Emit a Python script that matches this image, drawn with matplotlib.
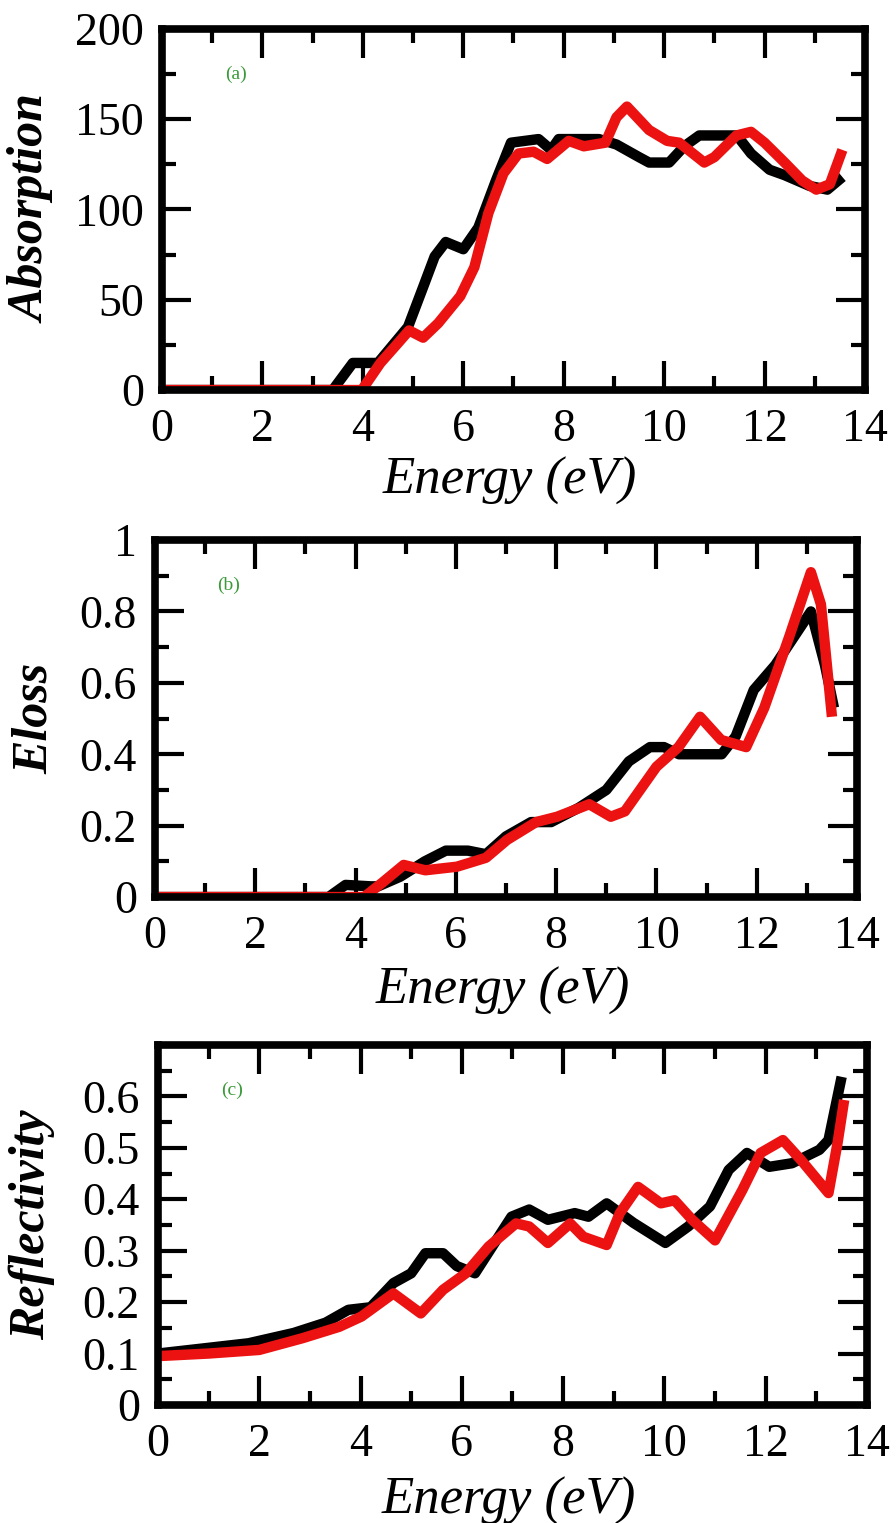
import matplotlib.pyplot as plt
import numpy as np
from matplotlib.ticker import MultipleLocator

plt.rcParams['font.family'] = ['Liberation Serif', 'DejaVu Serif']

# (a) absorption
abs_black_e = [0, 3.4, 3.8, 4.3, 4.9, 5.2, 5.43, 5.65, 6.0, 6.3, 6.65, 6.95, 7.5, 7.75,
               7.9, 8.7, 9.05, 9.5, 9.7, 10.1, 10.4, 10.7, 11.3, 11.45, 11.73, 12.1,
               12.4, 12.9, 13.25, 13.55]
abs_black = [0, 0, 15, 15, 35, 57, 74, 82, 78, 90, 116, 137, 139, 133,
             139, 139, 136, 129, 126, 126, 135, 141, 141, 141, 131, 122,
             119, 113, 111, 118]
abs_red_e = [0, 3.98, 4.35, 4.7, 4.92, 5.2, 5.5, 5.94, 6.22, 6.5, 6.8, 7.1, 7.4, 7.67,
             8.1, 8.4, 8.83, 9.05, 9.26, 9.7, 10.06, 10.3, 10.8, 11.0, 11.44, 11.73,
             12.0, 12.4, 12.75, 13.03, 13.3, 13.55]
abs_red = [0, 0, 15, 26, 33, 29, 37, 52, 68, 98, 120, 131, 132, 128,
           138, 135, 137, 151, 157, 144, 138, 137, 126, 129, 141, 143,
           137, 126, 116, 111, 114, 133]

# (b) energy loss
eloss_black_e = [0, 3.46, 3.8, 4.3, 4.45, 4.89, 5.38, 5.8, 6.24, 6.6, 7.0, 7.5, 7.9,
                 8.45, 9.0, 9.45, 9.87, 10.15, 10.45, 11.3, 11.58, 11.94, 12.37,
                 13.08, 13.36, 13.54]
eloss_black = [0, 0, 0.034, 0.03, 0.03, 0.057, 0.10, 0.13, 0.13, 0.12, 0.17, 0.21, 0.21,
               0.25, 0.30, 0.38, 0.42, 0.42, 0.40, 0.40, 0.45, 0.58, 0.65,
               0.80, 0.65, 0.53]
eloss_red_e = [0, 4.17, 4.53, 4.96, 5.39, 6.02, 6.6, 7.02, 7.6, 8.02, 8.66, 9.09, 9.37,
               10.0, 10.44, 10.87, 11.29, 11.79, 12.15, 12.65, 13.08, 13.28, 13.5]
eloss_red = [0, 0, 0.04, 0.09, 0.075, 0.085, 0.11, 0.16, 0.21, 0.225, 0.26, 0.225, 0.24,
             0.365, 0.42, 0.505, 0.44, 0.42, 0.53, 0.73, 0.91, 0.82, 0.505]

# (c) reflectivity
refl_black_e = [0, 0.9, 1.79, 2.68, 3.31, 3.76, 4.2, 4.65, 5.0, 5.28, 5.63, 5.9, 6.26,
                6.98, 7.33, 7.7, 8.23, 8.5, 8.86, 9.39, 10.02, 10.47, 10.9, 11.27,
                11.63, 12.07, 12.52, 13.06, 13.24, 13.5]
refl_black = [0.10, 0.11, 0.12, 0.14, 0.16, 0.185, 0.19, 0.237, 0.256, 0.295, 0.295, 0.27, 0.256,
              0.366, 0.38, 0.36, 0.373, 0.366, 0.392, 0.354, 0.315, 0.347, 0.386, 0.457,
              0.49, 0.463, 0.47, 0.496, 0.515, 0.638]
refl_red_e = [0, 1.0, 2.0, 2.86, 3.58, 4.02, 4.65, 5.19, 5.63, 6.08, 6.53, 7.07, 7.33,
              7.7, 8.14, 8.4, 8.86, 9.12, 9.48, 9.93, 10.2, 10.55, 11.0, 11.54, 11.9,
              12.34, 12.7, 13.24, 13.42, 13.55]
refl_red = [0.095, 0.10, 0.107, 0.13, 0.152, 0.172, 0.217, 0.178, 0.224, 0.256, 0.308, 0.353, 0.347,
            0.315, 0.353, 0.327, 0.311, 0.373, 0.424, 0.392, 0.398, 0.36, 0.32, 0.418, 0.49,
            0.515, 0.476, 0.412, 0.51, 0.593]

panels = [
    dict(rect=[0.1808, 0.7439, 0.7846, 0.2371], black=(abs_black_e, abs_black),
         red=(abs_red_e, abs_red), ylim=(0, 200), minor=25,
         yticks=[0, 50, 100, 150, 200], ylabels=['0', '50', '100', '150', '200'],
         ylabel='Absorption', tag='(a)', xlab_y=-0.185, ylab_x=-0.152),
    dict(rect=[0.173, 0.411, 0.7835, 0.2344], black=(eloss_black_e, eloss_black),
         red=(eloss_red_e, eloss_red), ylim=(0, 1), minor=0.1,
         yticks=[0, 0.2, 0.4, 0.6, 0.8, 1.0], ylabels=['0', '0.2', '0.4', '0.6', '0.8', '1'],
         ylabel='Eloss', tag='(b)', xlab_y=-0.195, ylab_x=-0.138),
    dict(rect=[0.1763, 0.0775, 0.7913, 0.2364], black=(refl_black_e, refl_black),
         red=(refl_red_e, refl_red), ylim=(0, 0.7), minor=0.05,
         yticks=[0, 0.1, 0.2, 0.3, 0.4, 0.5, 0.6],
         ylabels=['0', '0.1', '0.2', '0.3', '0.4', '0.5', '0.6'],
         ylabel='Reflectivity', tag='(c)', xlab_y=-0.2, ylab_x=-0.145),
]

fig = plt.figure(figsize=(8.96, 15.23), dpi=100)

for p in panels:
    ax = fig.add_axes(p['rect'])
    ax.plot(*p['black'], color='black', lw=7.5, solid_joinstyle='round', solid_capstyle='butt')
    ax.plot(*p['red'], color='#ec1212', lw=7.5, solid_joinstyle='round', solid_capstyle='butt')
    ax.set_xlim(0, 14)
    ax.set_ylim(*p['ylim'])
    ax.xaxis.set_major_locator(MultipleLocator(2))
    ax.xaxis.set_minor_locator(MultipleLocator(1))
    ax.set_yticks(p['yticks'])
    ax.set_yticklabels(p['ylabels'])
    ax.yaxis.set_minor_locator(MultipleLocator(p['minor']))
    ax.tick_params(which='both', direction='in', top=True, right=True, width=3,
                   labelsize=33, colors='black')
    ax.tick_params(which='major', length=21, pad=13)
    ax.tick_params(which='minor', length=10)
    for s in ax.spines.values():
        s.set_linewidth(5.5)
    ax.set_xlabel('Energy (eV)', fontsize=38, style='italic')
    ax.set_ylabel(p['ylabel'], fontsize=36, style='italic', weight='bold')
    ax.xaxis.set_label_coords(0.495, p['xlab_y'])
    ax.yaxis.set_label_coords(p['ylab_x'], 0.5)
    ax.text(0.105, 0.873, p['tag'], transform=ax.transAxes, fontsize=14,
            color='#3a9a3a', ha='center', va='center')

fig.savefig('out.png', dpi=100)
